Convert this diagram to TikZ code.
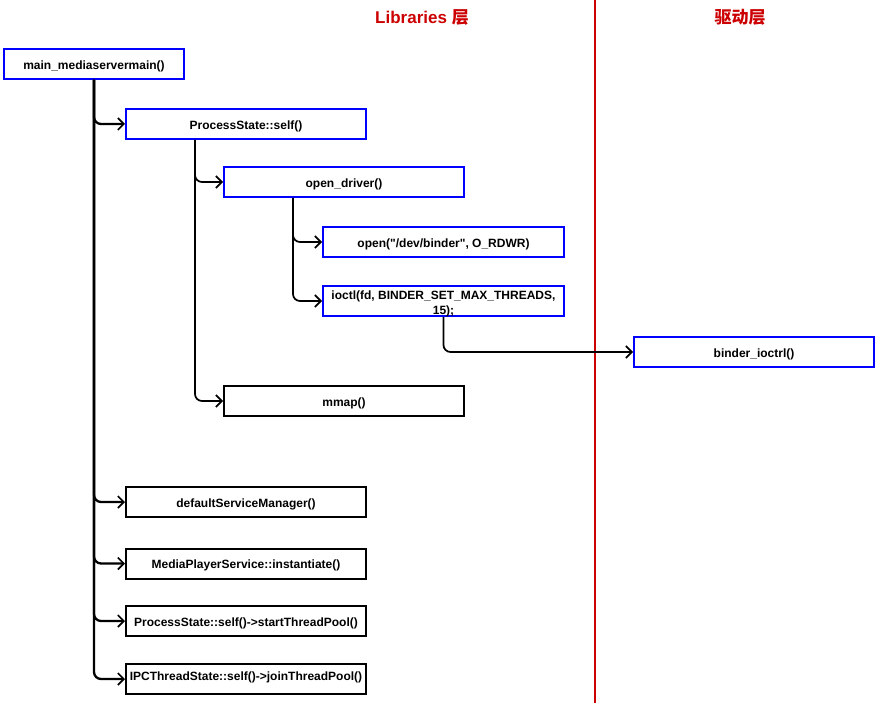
\documentclass[tikz,border=0pt]{standalone}
\usepackage{fontspec}
\setmainfont{Liberation Sans}
\newfontfamily\cjk{Noto Sans CJK SC}
\usetikzlibrary{arrows.meta}
\definecolor{layerred}{HTML}{CC0000}
\tikzset{
  labelfont/.style={font=\fontsize{12}{15}\selectfont\bfseries},
  fbox/.style={draw=#1, line width=2pt, minimum width=240pt, minimum height=30pt,
    inner sep=0pt, labelfont, text height=12.5pt, text depth=2pt},
  fbox/.default=blue,
  ftext/.style={labelfont, inner sep=0pt, align=center},
  conn/.style={draw=black, line width=1.7pt, rounded corners=7pt,
    -{Straight Barb[length=6pt,width=12pt,line width=1.6pt]}},
  trunk/.style={conn, line width=2.3pt},
  header/.style={text=layerred, font=\fontsize{17}{19}\selectfont\bfseries}
}
\begin{document}
\begin{tikzpicture}[x=1pt,y=-1pt]
\useasboundingbox (0,0) rectangle (880,703);

% layer divider and headers
\coordinate (divtop) at (595,0);
\coordinate (divbot) at (595,703);
\draw[layerred, line width=1.6pt] (divtop) -- (divbot);
\node[header] (libhdr) at (422,17) {Libraries {\cjk 层}};
\node[header] (drvhdr) at (740,17) {\cjk 驱动层};

% call boxes
\node[fbox, minimum width=180pt] (main) at (94,64) {main\_mediaservermain()};
\node[fbox] (ps) at (246,124) {ProcessState::self()};
\node[fbox] (od) at (344,182) {open\_driver()};
\node[fbox, minimum width=241pt] (op) at (443.5,242) {open(\textquotedbl/dev/binder\textquotedbl, O\_RDWR)};
\node[fbox, minimum width=241pt] (ioctl) at (443.5,301) {};
\node[ftext] (ioctltxt) at (443.5,304) {ioctl(fd, BINDER\_SET\_MAX\_THREADS,\\15);};
\node[fbox] (binder) at (754,352) {binder\_ioctrl()};
\node[fbox=black] (mmap) at (344,401) {mmap()};
\node[fbox=black] (dsm) at (246,502) {defaultServiceManager()};
\node[fbox=black] (mps) at (246,563.5) {MediaPlayerService::instantiate()};
\node[fbox=black] (stp) at (246,621) {ProcessState::self()->startThreadPool()};
\node[fbox=black] (ipc) at (246,679) {};
\node[ftext, text height=12.5pt, text depth=2pt] (ipctxt) at (246,675.5) {IPCThreadState::self()->joinThreadPool()};

% branch points on the parents' lower edges
\coordinate (psfork) at ([xshift=70pt]ps.south west);
\coordinate (odfork) at ([xshift=70pt]od.south west);

% connectors
\draw[trunk] (main.south) |- (ps.west);
\draw[trunk] (main.south) |- (dsm.west);
\draw[trunk] (main.south) |- (mps.west);
\draw[trunk] (main.south) |- (stp.west);
\draw[trunk] (main.south) |- (ipc.west);
\draw[conn] (psfork) |- (od.west);
\draw[conn] (psfork) |- (mmap.west);
\draw[conn] (odfork) |- (op.west);
\draw[conn] (odfork) |- (ioctl.west);
\draw[conn] (ioctl.south) |- (binder.west);
\end{tikzpicture}
\end{document}
